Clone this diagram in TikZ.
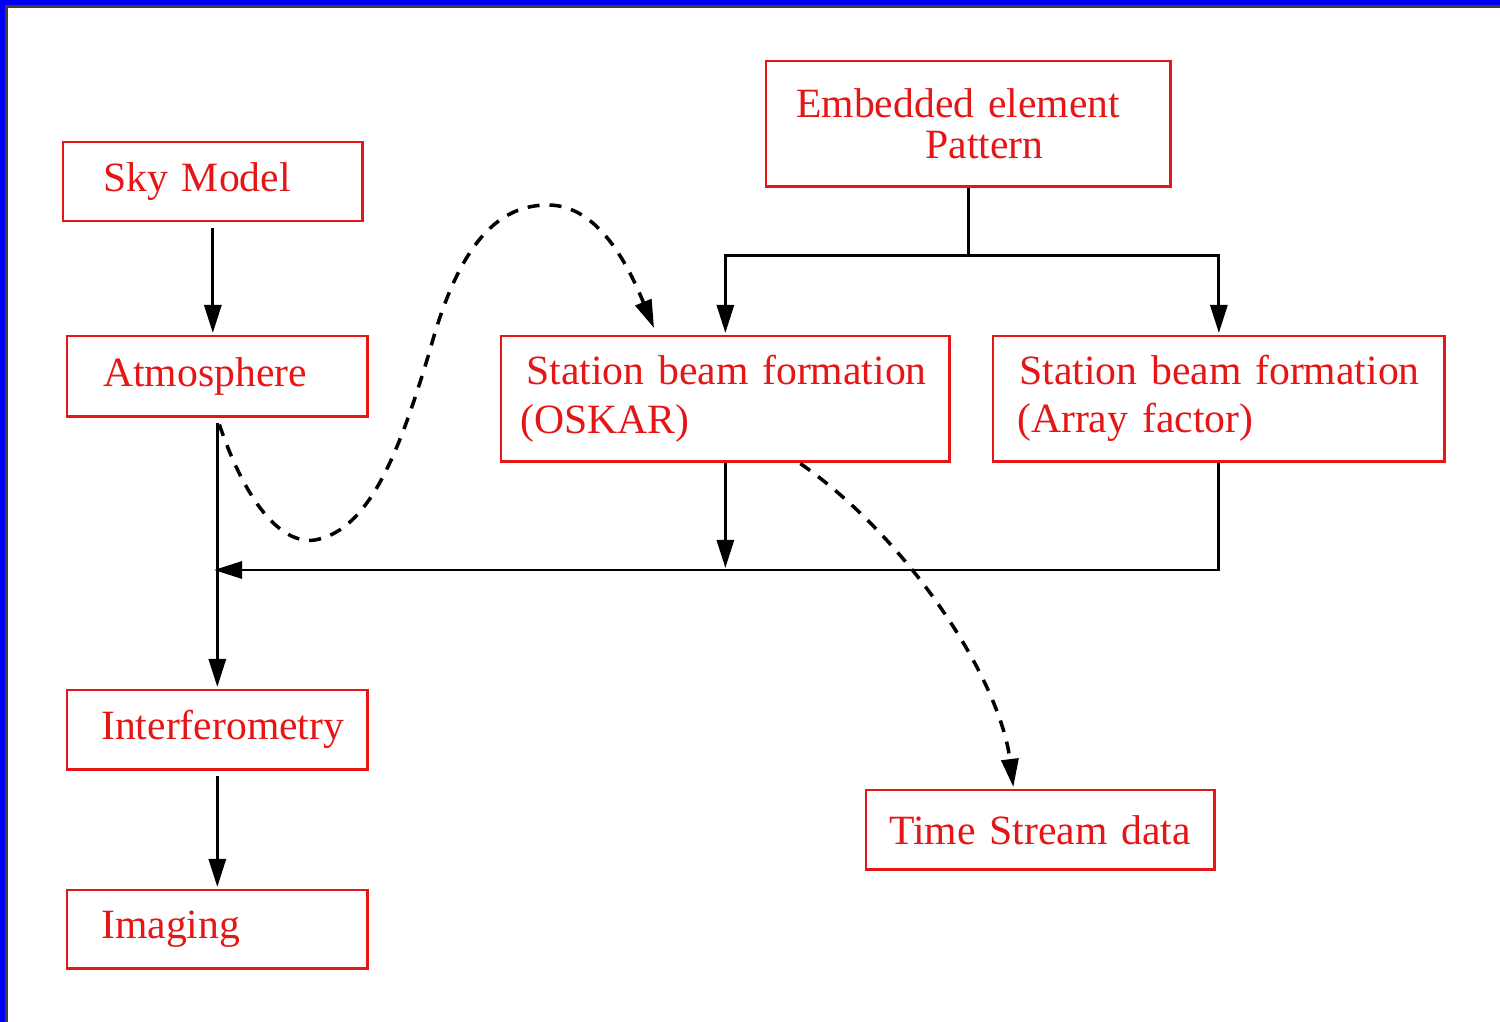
\documentclass[tikz,border=0pt]{standalone}
\usepackage{fontspec}
\setmainfont{Liberation Serif}
\usetikzlibrary{arrows.meta,calc}
\definecolor{boxred}{RGB}{228,22,22}
\definecolor{frameblue}{RGB}{0,0,250}
\begin{document}
\begin{tikzpicture}[x=0.01cm,y=-0.01cm,
  box/.style={draw=boxred, text=boxred, line width=0.7pt, anchor=north west,
    align=left, inner ysep=0pt, font=\fontsize{11.85}{13.66}\selectfont},
  arr/.style={draw=black, line width=0.85pt, -{Triangle[length=0.28cm,width=0.17cm]}},
  plain/.style={draw=black, line width=0.85pt},
  dsh/.style={arr, line width=1pt, dash pattern=on 0.12cm off 0.1cm}]
\useasboundingbox (0,0) rectangle (1500,1022);
% frame
\fill[white] (0,0) rectangle (1500,1022);
\fill[frameblue] (0,0) rectangle (1500,6);
\fill[frameblue] (0,0) rectangle (6,1022);
\draw[black!75, line width=0.6pt] (6.5,1022) -- (6.5,6.5) -- (1500,6.5);
% nodes
\node[box, minimum width=2.99cm, minimum height=0.79cm, inner xsep=0.40cm, text width=2.19cm] (sky) at (62,141) {Sky Model};
\node[box, minimum width=3.00cm, minimum height=0.80cm, inner xsep=0.36cm, text width=2.28cm] (atm) at (66,335) {Atmosphere};
\node[box, minimum width=4.04cm, minimum height=1.25cm, inner xsep=0.30cm, text width=3.44cm,
  font=\fontsize{11.85}{11.4}\selectfont] (emb) at (765,60) {\mbox{Embedded element}\\\hspace*{1.29cm}Pattern};
\node[box, minimum width=4.48cm, minimum height=1.25cm, inner xsep=0.19cm, text width=4.10cm] (osk) at (500,335) {\mbox{\hspace*{0.06cm}Station beam formation}\\(OSKAR)};
\node[box, minimum width=4.51cm, minimum height=1.25cm, inner xsep=0.24cm, text width=4.03cm] (arf) at (992,335) {\mbox{\hspace*{0.02cm}Station beam formation}\\(Array factor)};
\node[box, minimum width=3.00cm, minimum height=0.79cm, inner xsep=0.34cm, text width=2.32cm] (int) at (66,689) {Interferometry};
\node[box, minimum width=3.00cm, minimum height=0.78cm, inner xsep=0.34cm, text width=2.32cm] (img) at (66,889) {Imaging};
\node[box, minimum width=3.48cm, minimum height=0.79cm, inner xsep=0.23cm, text width=3.02cm] (tsd) at (865,789) {\mbox{Time Stream data}};
% junction coordinates
\coordinate (j) at (216,570);
\coordinate (eb) at (970,256);
\coordinate (d1s) at ($(atm.south)+(2,7)$);
\coordinate (d1m) at (315,540);
\coordinate (d1n) at (430,350);
\coordinate (d1p) at (548,205);
\coordinate (d1e) at (654,328);
\coordinate (d2s) at ($(osk.south)+(75,1)$);
\coordinate (d2e) at ($(tsd.north)+(-27,-2)$);
% connectors
\draw[arr, shorten <=0.05cm, shorten >=0.02cm] (sky.south) -- (sky.south |- atm.north);
\draw[arr, shorten <=0.05cm, shorten >=0.02cm] (atm.south) -- (int.north);
\draw[arr, shorten <=0.05cm, shorten >=0.02cm] (int.south) -- (img.north);
\draw[arr, shorten >=-0.02cm] (arf.south) -- (arf.south |- j) -- (j);
\draw[arr, shorten >=0.02cm] (osk.south) -- (osk.south |- j);
\draw[plain] (emb.south) -- (emb.south |- eb);
\draw[arr, shorten >=0.02cm] (emb.south |- eb) -| (osk.north);
\draw[arr, shorten >=0.02cm] (emb.south |- eb) -| (arf.north);
% dashed curves
\draw[dsh] (d1s) .. controls (245,500) and (280,545) .. (d1m)
  .. controls (370,530) and (400,450) .. (d1n)
  .. controls (460,240) and (500,205) .. (d1p)
  .. controls (600,205) and (630,270) .. (d1e);
\draw[dsh] (d2s) .. controls (910,540) and (1000,680) .. (d2e);
\end{tikzpicture}
\end{document}
